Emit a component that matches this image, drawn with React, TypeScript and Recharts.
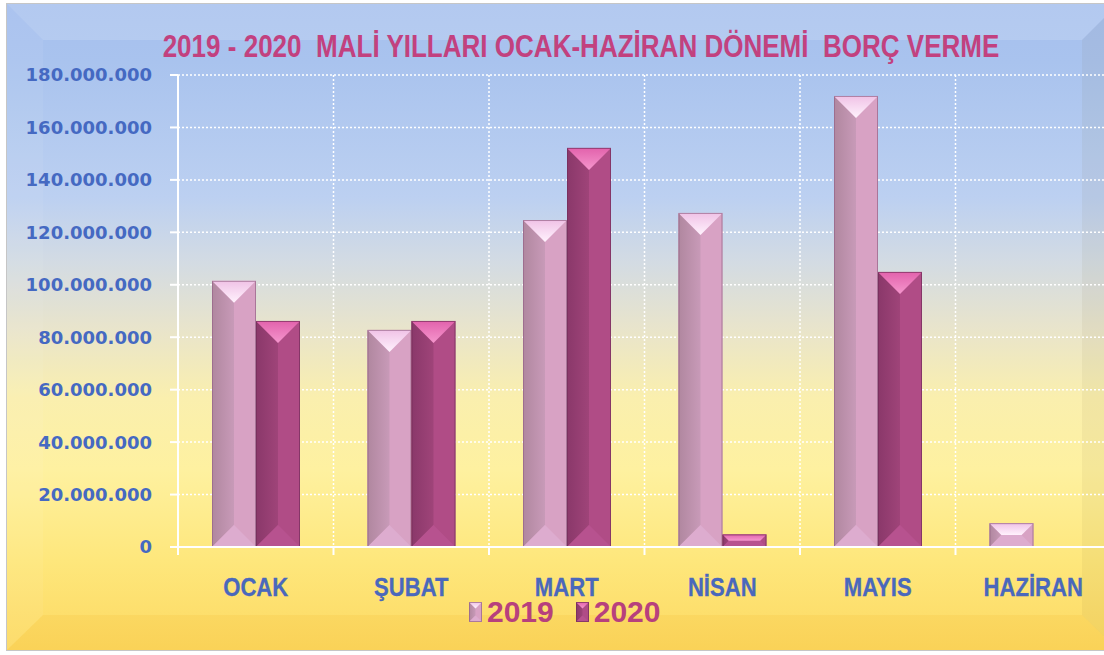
import React from 'react';
import { BarChart, Bar, XAxis, YAxis, CartesianGrid, Legend } from 'recharts';

const months = ['OCAK', 'ŞUBAT', 'MART', 'NİSAN', 'MAYIS', 'HAZİRAN'];
const values2019 = [101500000, 82800000, 124700000, 127400000, 172000000, 9100000];
const values2020 = [86200000, 86200000, 152200000, 4800000, 104900000, 0];
const yTicks = [0, 20000000, 40000000, 60000000, 80000000, 100000000, 120000000, 140000000, 160000000, 180000000];

const data = months.map((m, i) => ({ month: m, y2019: values2019[i], y2020: values2020[i] }));

const SANS = "'Liberation Sans', Arial, sans-serif";

const palettes: Record<string, any> = {
  y2019: { id: 'p19', right: '#d8a2c4', bottom: '#ddaccf', edge: 'rgba(150,100,135,0.7)' },
  y2020: { id: 'p20', right: '#b04c86', bottom: '#b7528f', edge: 'rgba(115,45,90,0.7)' },
};

const bevel = (x: number, y: number, w: number, h: number, pal: any) => {
  if (!h || h <= 0 || !w) return null;
  const d = Math.min(w / 2, h / 2);
  const pts = (a: number[][]) => a.map((p) => p.join(',')).join(' ');
  return (
    <g>
      <rect x={x} y={y} width={w} height={h} fill={pal.right} />
      <polygon points={pts([[x, y], [x + d, y + d], [x + d, y + h - d], [x, y + h]])} fill={`url(#${pal.id}-left)`} />
      <polygon points={pts([[x, y + h], [x + d, y + h - d], [x + w - d, y + h - d], [x + w, y + h]])} fill={pal.bottom} />
      <polygon points={pts([[x, y], [x + w, y], [x + w - d, y + d], [x + d, y + d]])} fill={`url(#${pal.id}-top)`} />
      <rect x={x + 0.5} y={y + 0.5} width={w - 1} height={h - 1} fill="none" stroke={pal.edge} strokeWidth={1} />
    </g>
  );
};

const BevelBar = (props: any) => {
  const { x, y, width, height, pal } = props;
  return bevel(x, y, width, height, pal);
};

const MonthTick = (props: any) => {
  const { x, y, payload, index, visibleTicksCount, width } = props;
  const half = payload.offset || width / visibleTicksCount / 2;
  return (
    <g>
      <line x1={x - half} x2={x - half} y1={y - 8} y2={y} stroke="#fff" strokeWidth={2} />
      {index === visibleTicksCount - 1 && (
        <line x1={x + half} x2={x + half} y1={y - 8} y2={y} stroke="#fff" strokeWidth={2} />
      )}
      <g transform={`translate(${x},${y + 41}) scale(0.85,1)`}>
        <text x={0} y={0} textAnchor="middle" fill="#4a68bc" stroke="#4a68bc" strokeWidth={0.3} fontFamily={SANS} fontWeight="bold" fontSize={26}>
          {payload.value}
        </text>
      </g>
    </g>
  );
};

const formatTick = (v: number) => String(v).replace(/\B(?=(\d{3})+(?!\d))/g, '.');

const LegendContent = (props: any) => {
  const { payload = [] } = props;
  return (
    <div style={{ display: 'flex', alignItems: 'center' }}>
      {payload.map((entry: any) => (
        <div key={entry.value} style={{ display: 'flex', alignItems: 'center', marginRight: 22 }}>
          <svg width={13} height={20}>{bevel(0, 0, 13, 20, palettes[entry.dataKey])}</svg>
          <span
            style={{
              marginLeft: 5,
              fontFamily: SANS,
              fontWeight: 'bold',
              fontSize: 30,
              color: '#b7407d',
              lineHeight: '30px',
            }}
          >
            {entry.value}
          </span>
        </div>
      ))}
    </div>
  );
};

const Background = () => (
  <svg width={1104} height={655} style={{ position: 'absolute', left: 0, top: 0 }}>
    <defs>
      <linearGradient id="bg" x1="0" y1="0" x2="0" y2="1">
        <stop offset="0" stopColor="#a6c0ee" />
        <stop offset="0.09" stopColor="#a9c3ee" />
        <stop offset="0.3" stopColor="#bcd0f1" />
        <stop offset="0.4" stopColor="#d3dbe3" />
        <stop offset="0.5" stopColor="#e8e4cc" />
        <stop offset="0.61" stopColor="#faefae" />
        <stop offset="0.72" stopColor="#fef1a0" />
        <stop offset="0.86" stopColor="#fee77c" />
        <stop offset="1" stopColor="#fcd962" />
      </linearGradient>
      <linearGradient id="p19-left" x1="0" y1="0" x2="1" y2="0">
        <stop offset="0" stopColor="#b0879f" />
        <stop offset="1" stopColor="#c89ab8" />
      </linearGradient>
      <linearGradient id="p19-top" x1="0" y1="0" x2="0" y2="1">
        <stop offset="0" stopColor="#f0c2e6" />
        <stop offset="1" stopColor="#fff2fd" />
      </linearGradient>
      <linearGradient id="p20-left" x1="0" y1="0" x2="1" y2="0">
        <stop offset="0" stopColor="#8a386a" />
        <stop offset="1" stopColor="#9f4479" />
      </linearGradient>
      <linearGradient id="p20-top" x1="0" y1="0" x2="0" y2="1">
        <stop offset="0" stopColor="#e262ac" />
        <stop offset="1" stopColor="#f596cd" />
      </linearGradient>
    </defs>
    <rect x={0} y={0} width={1104} height={655} fill="#fff" />
    <rect x={6.5} y={3.5} width={1112} height={647} fill="url(#bg)" stroke="#c6c6c6" />
    <polygon points="7,4 1118,4 1082,40 43,40" fill="#fff" opacity={0.15} />
    <polygon points="7,4 43,40 43,615 7,650" fill="#fff" opacity={0.06} />
    <polygon points="1118,4 1082,40 1082,615 1118,650" fill="#6a5020" opacity={0.06} />
    <polygon points="7,650 43,615 1082,615 1118,650" fill="#e8a000" opacity={0.1} />
    <g transform="translate(581,57) scale(0.84,1)">
      <text
        x={0}
        y={0}
        textAnchor="middle"
        fill="#c2417f"
        fontFamily={SANS}
        fontWeight="bold"
        fontSize={31}
        style={{ whiteSpace: 'pre' }}
      >
        {'2019 - 2020  MALİ YILLARI OCAK-HAZİRAN DÖNEMİ  BORÇ VERME'}
      </text>
    </g>
  </svg>
);

export default function App() {
  return (
    <div style={{ position: 'absolute', left: 0, top: 0, width: 1104, height: 655, overflow: 'hidden' }}>
      <Background />
      <div style={{ position: 'absolute', left: 0, top: 0 }}>
        <BarChart
          width={1130}
          height={655}
          data={data}
          margin={{ top: 75, right: 19, left: 8, bottom: 0 }}
          barGap={0}
        >
          <CartesianGrid
            stroke="#fff"
            strokeDasharray="2 2"
            strokeWidth={1.5}
            verticalCoordinatesGenerator={({ offset }: any) =>
              months.map((_, i) => offset.left + ((i + 1) * offset.width) / months.length)
            }
          />
          <XAxis
            dataKey="month"
            interval={0}
            height={108}
            tickLine={false}
            tickSize={8}
            tickMargin={0}
            axisLine={{ stroke: '#fff', strokeWidth: 2 }}
            tick={<MonthTick />}
          />
          <YAxis
            width={170}
            domain={[0, 180000000]}
            ticks={yTicks}
            tickFormatter={formatTick}
            tickSize={8}
            tickMargin={18}
            axisLine={{ stroke: '#fff', strokeWidth: 2 }}
            tickLine={{ stroke: '#fff', strokeWidth: 2 }}
            tick={{ fill: '#4569c2', fontFamily: 'DejaVu Sans', fontWeight: 'bold', fontSize: 18 }}
          />
          <Legend
            layout="vertical"
            align="center"
            verticalAlign="middle"
            wrapperStyle={{ top: 597, left: 469, width: 240 }}
            content={<LegendContent />}
          />
          <Bar dataKey="y2019" name="2019" barSize={44} isAnimationActive={false} shape={(p: any) => <BevelBar {...p} pal={palettes.y2019} />} />
          <Bar dataKey="y2020" name="2020" barSize={44} isAnimationActive={false} shape={(p: any) => <BevelBar {...p} pal={palettes.y2020} />} />
        </BarChart>
      </div>
    </div>
  );
}
